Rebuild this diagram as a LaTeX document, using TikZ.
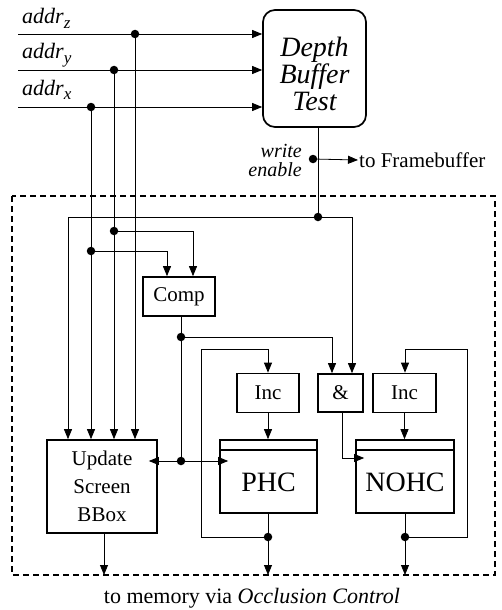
\documentclass[tikz,border=0pt]{standalone}
\usepackage{fontspec}
\setmainfont{Liberation Serif}
\usetikzlibrary{arrows.meta,calc}
\newcommand{\mysub}[1]{\raisebox{-5pt}{\fontsize{17}{17}\selectfont #1}}
\begin{document}
\begin{tikzpicture}[x=1pt,y=-1pt,
 wire/.style={line width=0.8pt},
 arr/.style={wire,-{Triangle[length=10pt,width=8pt]}},
 blk/.style={draw,line width=1.7pt,inner sep=0pt,font=\fontsize{21}{28}\selectfont,align=center},
 dot/.style={circle,fill,inner sep=0pt,minimum size=8.5pt},
 lbl/.style={font=\fontsize{21}{27}\selectfont,inner sep=1pt},
 big/.style={font=\fontsize{28}{27}\selectfont,inner sep=0pt,align=center},
 addr/.style={inner sep=1pt,anchor=base west,font=\itshape\fontsize{22}{27}\selectfont},
]
\useasboundingbox (0,0) rectangle (501,610);

% dashed frame
\draw[line width=1.8pt,dash pattern=on 6pt off 4pt] (12,196) rectangle (495,575);

% blocks
\node[blk,rounded corners=12pt,minimum width=103pt,minimum height=117pt] (dbt) at (314.5,68.5) {};
\node[big,font=\itshape\fontsize{28}{27}\selectfont] (dbttext) at (314.5,74) {Depth\\Buffer\\Test};
\node[blk,minimum width=110pt,minimum height=93pt] (upd) at (102,486.5) {Update\\Screen\\BBox};
\node[blk,minimum width=72pt,minimum height=39pt] (comp) at (179,296.5) {Comp};
\node[blk,minimum width=62pt,minimum height=39pt] (inc1) at (268,393) {Inc};
\node[blk,minimum width=45pt,minimum height=38pt] (and) at (340.5,393) {\&};
\node[blk,minimum width=63pt,minimum height=39pt] (inc2) at (404.5,393) {Inc};
\node[blk,minimum width=97pt,minimum height=73pt] (phc) at (268.5,476.5) {};
\node[big] (phctext) at (268.5,482) {PHC};
\node[blk,minimum width=98pt,minimum height=73pt] (nohc) at (405,476.5) {};
\node[big] (nohctext) at (405,482) {NOHC};
\draw[line width=1.7pt] ([yshift=-11pt]phc.north west) -- ([yshift=-11pt]phc.north east);
\draw[line width=1.7pt] ([yshift=-11pt]nohc.north west) -- ([yshift=-11pt]nohc.north east);

% address inputs
\coordinate (az) at (18,34);
\coordinate (ay) at (18,70);
\coordinate (ax) at (18,107);
\node[addr] (lz) at (21,24) {addr\mysub{z}};
\node[addr] (ly) at (21,59) {addr\mysub{y}};
\node[addr] (lx) at (21,95) {addr\mysub{x}};
\draw[arr] (az) -- (az -| dbt.west);
\draw[arr] (ay) -- (ay -| dbt.west);
\draw[arr] (ax) -- (ax -| dbt.west);
\node[dot] (dz) at (135,34) {};
\node[dot] (dy) at (114,70) {};
\node[dot] (dx) at (91,107) {};
\draw[arr] (dz) -- (dz |- upd.north);
\draw[arr] (dy) -- (dy |- upd.north);
\draw[arr] (dx) -- (dx |- upd.north);

% to comparator
\node[dot] (dy2) at (114,231) {};
\node[dot] (dx2) at (91,251) {};
\coordinate (cy) at (193,231);
\coordinate (cx) at (167,251);
\draw[arr] (dy2) -- (cy) -- (cy |- comp.north);
\draw[arr] (dx2) -- (cx) -- (cx |- comp.north);

% write enable
\node[dot] (wed) at (318,217) {};
\draw[wire] (wed |- dbt.south) -- (wed);
\node[dot] (fbd) at (313,159) {};
\node[lbl,anchor=west] (fbt) at (358,160) {to Framebuffer};
\draw[arr] (fbd) -- (fbt.west);
\node[anchor=east,align=right,inner sep=1pt,font=\itshape\fontsize{20}{19}\selectfont] (wet) at (303,160) {write\\enable};
\coordinate (welt) at (68,217);
\coordinate (wer) at (352,217);
\draw[arr] (wed) -- (welt) -- (welt |- upd.north);
\draw[arr] (wed) -- (wer) -- (wer |- and.north);

% comparator output
\node[dot] (cd) at (181,337) {};
\node[dot] (cd2) at (181,461) {};
\draw[wire] (cd |- comp.south) -- (cd) -- (cd2);
\coordinate (cr) at (332,337);
\draw[arr] (cd) -- (cr) -- (cr |- and.north);
\draw[arr,shorten >=-9pt] (cd2) -- (cd2 -| upd.east);
\draw[arr,shorten >=-9pt] (cd2) -- (cd2 -| phc.west);

% PHC loop
\node[dot] (pd) at (268,537) {};
\draw[wire] (pd |- phc.south) -- (pd);
\coordinate (pll) at (201,537);
\coordinate (plt) at (201,349);
\coordinate (plr) at (268,349);
\draw[arr] (pd) -- (pll) -- (plt) -- (plr) -- (plr |- inc1.north);
\draw[arr] (inc1.south) -- (inc1.south |- phc.north);
\coordinate (po) at (268,575);
\draw[arr] (pd) -- (po);

% NOHC loop
\node[dot] (nd) at (405,537) {};
\draw[wire] (nd |- nohc.south) -- (nd);
\coordinate (nlr) at (467,537);
\coordinate (nlt) at (467,349);
\coordinate (nll) at (405,349);
\draw[arr] (nd) -- (nlr) -- (nlt) -- (nll) -- (nll |- inc2.north);
\draw[arr] (inc2.south) -- (inc2.south |- nohc.north);
\coordinate (no) at (405,575);
\draw[arr] (nd) -- (no);

% AND output to NOHC clock
\coordinate (ao) at (342,458);
\draw[arr,shorten >=-9pt] (ao |- and.south) -- (ao) -- (ao -| nohc.west);

% Update output
\coordinate (uo) at (104,575);
\draw[arr] (uo |- upd.south) -- (uo);

\node[lbl,font=\fontsize{22}{27}\selectfont] (mem) at (252,598) {to memory via \textit{Occlusion Control}};
\end{tikzpicture}
\end{document}
